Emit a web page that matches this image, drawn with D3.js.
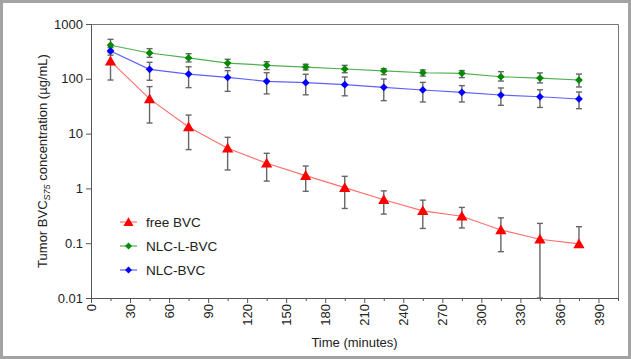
<!DOCTYPE html>
<html lang="en">
<head>
  <meta charset="UTF-8">
  <style>
    body { margin: 0; background: #fff; }
    svg { display: block; font-family: Arial, "Liberation Sans", sans-serif; }
    .axis path, .axis line { stroke: #555; }
    .axis text { font-size: 13px; fill: #222; }
  </style>
</head>
<body>
  <svg class="chart"></svg>
  <script src="https://cdnjs.cloudflare.com/ajax/libs/d3/7.8.5/d3.min.js"></script>
  <script>
    const times = [15, 45, 75, 105, 135, 165, 195, 225, 255, 285, 315, 345, 375]

    const freeMean = [210, 43, 13.2, 5.4, 2.87, 1.71, 1.03, 0.62, 0.39, 0.31, 0.174, 0.118, 0.097]
    const freeHigh = [330, 72, 21.8, 8.55, 4.37, 2.56, 1.66, 0.9, 0.61, 0.45, 0.29, 0.23, 0.2]
    const freeLow  = [95, 15.6, 5.1, 2.17, 1.36, 0.885, 0.43, 0.34, 0.186, 0.19, 0.07, 0.01, 0]

    const nlcLMean = [410, 296, 240, 194, 176, 164, 151, 139, 129, 126, 109, 103, 95]
    const nlcLHigh = [525, 355, 287, 227, 205, 184, 176, 153, 145, 141, 135, 128, 122]
    const nlcLLow  = [300, 247, 203, 160, 147, 145, 129, 119, 112, 105, 91, 84, 71]

    const nlcMean = [322, 149, 122, 106, 90, 85, 78, 70, 62.5, 56.6, 50.6, 47, 42.8]
    const nlcHigh = [370, 200, 166, 141, 129, 121, 108, 99, 86, 75, 68, 63, 57.4]
    const nlcLow  = [270, 94, 69, 59, 53, 51, 49, 40, 37.8, 37.8, 32.8, 30, 28.5]

    const yTicks = [0.01, 0.1, 1, 10, 100, 1000]
    const xTicks = d3.range(0, 391, 30)

    const series = [
      { name: 'free BVC', mean: freeMean, high: freeHigh, low: freeLow, color: '#ff0000', line: '#ff7070', shape: d3.symbolTriangle, size: 55, rot: 0, dy: 1 },
      { name: 'NLC-L-BVC', mean: nlcLMean, high: nlcLHigh, low: nlcLLow, color: '#008a00', line: '#4fb04f', shape: d3.symbolSquare, size: 30, rot: 45, dy: 0 },
      { name: 'NLC-BVC', mean: nlcMean, high: nlcHigh, low: nlcLow, color: '#0000ff', line: '#6060ff', shape: d3.symbolSquare, size: 30, rot: 45, dy: 0 }
    ]

    const W = 631, H = 359
    const plot = { left: 91, right: 618, top: 24, bottom: 298 }

    const svg = d3.select('.chart').attr('width', W).attr('height', H)

    // outer frame
    svg.append('rect')
      .attr('x', 1.5).attr('y', 1.5)
      .attr('width', W - 3).attr('height', H - 3)
      .attr('fill', 'none').attr('stroke', '#a3a3a3').attr('stroke-width', 3)

    const x = d3.scaleLinear().domain([0, 405]).range([plot.left, plot.right])
    const y = d3.scaleLog().domain([0.01, 1000]).range([plot.bottom, plot.top])

    // box top and right
    svg.append('path')
      .attr('d', `M${plot.left},${plot.top + 0.5}H${plot.right + 0.5}V${plot.bottom}`)
      .attr('fill', 'none').attr('stroke', '#777')

    // y axis
    svg.append('g').attr('class', 'axis')
      .attr('transform', `translate(${plot.left},0)`)
      .call(d3.axisLeft(y).tickValues(yTicks).tickFormat(d => String(d)).tickSizeOuter(0).tickSize(5).tickPadding(3))

    // x axis, minor ticks first
    svg.append('g').attr('class', 'axis')
      .attr('transform', `translate(0,${plot.bottom})`)
      .call(d3.axisBottom(x).tickValues(d3.range(15, 406, 30)).tickFormat('').tickSize(3).tickSizeOuter(0))
      .select('.domain').remove()

    const xAxis = svg.append('g').attr('class', 'axis')
      .attr('transform', `translate(0,${plot.bottom})`)
      .call(d3.axisBottom(x).tickValues(xTicks).tickSize(5).tickSizeOuter(0))
    xAxis.selectAll('text')
      .attr('transform', 'rotate(-90)')
      .attr('text-anchor', 'end')
      .attr('x', -6).attr('y', 0).attr('dy', '0.35em')

    // axis titles
    svg.append('text')
      .attr('x', (plot.left + plot.right) / 2).attr('y', 347)
      .attr('text-anchor', 'middle').attr('font-size', 13).attr('fill', '#222')
      .text('Time (minutes)')

    const yl = svg.append('text')
      .attr('transform', `translate(47,${(plot.top + plot.bottom) / 2}) rotate(-90)`)
      .attr('text-anchor', 'middle').attr('font-size', 13).attr('fill', '#222')
    yl.append('tspan').text('Tumor BVC')
    yl.append('tspan').text('S75').attr('font-size', 9).attr('font-style', 'italic').attr('dy', 3)
    yl.append('tspan').text(' concentration (\u00b5g/mL)').attr('dy', -3)

    // error bars
    const cap = 3
    series.forEach(s => {
      const g = svg.append('g').attr('stroke', '#666').attr('stroke-width', 1.4).attr('fill', 'none')
      times.forEach((t, i) => {
        const cx = x(t)
        const top = y(s.high[i])
        const bot = s.low[i] > 0 ? y(Math.max(s.low[i], 0.01)) : y(s.mean[i])
        g.append('line').attr('x1', cx).attr('x2', cx).attr('y1', top).attr('y2', bot)
        g.append('line').attr('x1', cx - cap).attr('x2', cx + cap).attr('y1', top).attr('y2', top)
        if (s.low[i] > 0) g.append('line').attr('x1', cx - cap).attr('x2', cx + cap).attr('y1', bot).attr('y2', bot)
      })
    })

    // lines and markers
    const line = d3.line().x((d, i) => x(times[i])).y(d => y(d))
    series.forEach(s => {
      svg.append('path').datum(s.mean)
        .attr('d', line).attr('fill', 'none')
        .attr('stroke', s.line).attr('stroke-width', 1.2)
    })
    series.forEach(s => {
      svg.append('g').selectAll('path').data(s.mean).join('path')
        .attr('transform', (d, i) => `translate(${x(times[i])},${y(d) + s.dy}) rotate(${s.rot})`)
        .attr('d', d3.symbol(s.shape, s.size))
        .attr('fill', s.color)
    })

    // legend
    const legend = svg.append('g').attr('transform', 'translate(120,222)')
    series.forEach((s, i) => {
      const row = legend.append('g').attr('transform', `translate(0,${i * 24})`)
      row.append('line').attr('x1', 0).attr('x2', 17).attr('stroke', s.line).attr('stroke-width', 1.2)
      row.append('path').attr('transform', `translate(8.5,${s.dy}) rotate(${s.rot})`)
        .attr('d', d3.symbol(s.shape, s.size * 0.8)).attr('fill', s.color)
      row.append('text').attr('x', 26).attr('dy', '0.35em')
        .attr('font-size', 13.5).attr('fill', '#222').text(s.name)
    })
  </script>
</body>
</html>
